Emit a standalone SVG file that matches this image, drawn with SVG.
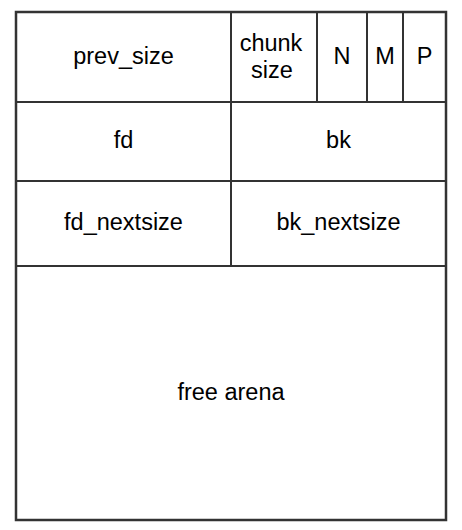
<svg xmlns="http://www.w3.org/2000/svg" width="462" height="530" viewBox="0 0 462 530">
<style>
.c{fill:#ffffff;stroke:#333333;stroke-width:2}
.t{font-family:"Liberation Sans",Arial,sans-serif;font-size:23.5px;fill:#000000;text-anchor:middle;dominant-baseline:central}
</style>
<rect width="462" height="530" fill="#ffffff"/>
<g id="prev_size"><rect class="c" x="16" y="12" width="215" height="90"/><text class="t" x="123.5" y="56">prev_size</text></g>
<g id="chunk_size"><rect class="c" x="231" y="12" width="86" height="90"/><text class="t" x="271" y="43">chunk</text><text class="t" x="272" y="70">size</text></g>
<g id="N"><rect class="c" x="317" y="12" width="50" height="90"/><text class="t" x="342" y="56">N</text></g>
<g id="M"><rect class="c" x="367" y="12" width="36" height="90"/><text class="t" x="385" y="56">M</text></g>
<g id="P"><rect class="c" x="403" y="12" width="43" height="90"/><text class="t" x="424.5" y="56">P</text></g>
<g id="fd"><rect class="c" x="16" y="102" width="215" height="79"/><text class="t" x="123.5" y="140">fd</text></g>
<g id="bk"><rect class="c" x="231" y="102" width="215" height="79"/><text class="t" x="338.5" y="140">bk</text></g>
<g id="fd_nextsize"><rect class="c" x="16" y="181" width="215" height="85"/><text class="t" x="123.5" y="222">fd_nextsize</text></g>
<g id="bk_nextsize"><rect class="c" x="231" y="181" width="215" height="85"/><text class="t" x="338.5" y="222">bk_nextsize</text></g>
<g id="free_arena"><rect class="c" x="16" y="266" width="430" height="254"/><text class="t" x="231" y="392">free arena</text></g>
<g id="outline"><rect x="16" y="12" width="430" height="508" fill="none" stroke="#333333" stroke-width="2.5"/></g>
<g id="connectors"></g>
</svg>
